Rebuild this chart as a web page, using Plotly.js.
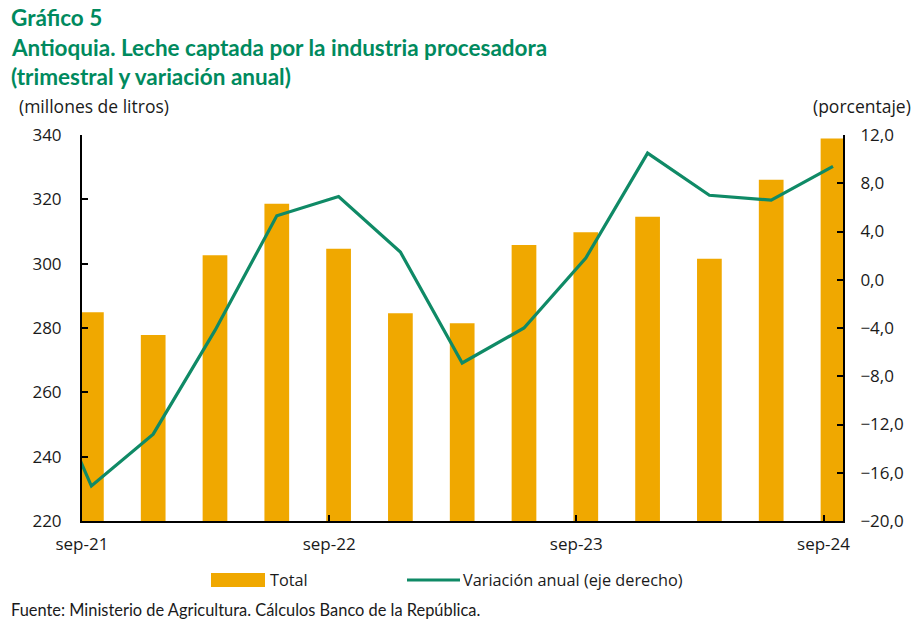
<!DOCTYPE html>
<html>
<head>
<meta charset="utf-8">
<script src="https://cdn.plot.ly/plotly-3.0.1.min.js"></script>
<style>
  html, body { margin: 0; padding: 0; background: #ffffff; }
  #chart { width: 916px; height: 621px; }
</style>
</head>
<body>
<div id="chart"></div>
<script>
// ---- Data ----
const quarters = ['sep-21','dic-21','mar-22','jun-22','sep-22','dic-22','mar-23','jun-23','sep-23','dic-23','mar-24','jun-24','sep-24'];
const totalMillonesLitros = [284.9, 277.8, 302.6, 318.6, 304.6, 284.6, 281.5, 305.8, 309.8, 314.6, 301.5, 326.1, 338.9];
// annual variation (%), preceded by jun-21 (only partly visible at the left edge)
const varQuarters = ['jun-21','sep-21','dic-21','mar-22','jun-22','sep-22','dic-22','mar-23','jun-23','sep-23','dic-23','mar-24','jun-24','sep-24'];
const variacionAnual = [-5.3, -17.1, -12.8, -4.2, 5.3, 6.9, 2.3, -6.9, -4.0, 1.8, 10.5, 7.0, 6.6, 9.4];
const xTickLabels = ['sep-21','sep-22','sep-23','sep-24'];

// ---- Styles ----
const TITLE_FONT = 'Lato, "Noto Sans", sans-serif';
const FONT = '"Open Sans", "Noto Sans", sans-serif';
const FOOT_FONT = 'Lato, "Noto Sans", sans-serif';
const BAR_COLOR = '#F0A800';
const LINE_COLOR = '#0F8A66';
const TITLE_COLOR = '#008A5E';
const TEXT_COLOR = '#1a1a1a';

const W = 916, H = 621;
const M = {l: 82, r: 73, t: 135, b: 100};
const px = x => (x - M.l) / (W - M.l - M.r);
const py = y => (H - M.b - y) / (H - M.t - M.b);

const xBar = quarters.map((q, i) => i);
const xVar = varQuarters.map(q => quarters.indexOf(q) >= 0 ? quarters.indexOf(q) : -1);
const tickPositions = xTickLabels.map(l => quarters.indexOf(l) - 0.153);

const traces = [
  {
    type: 'bar', name: 'Total', x: xBar, y: totalMillonesLitros,
    customdata: quarters, width: 0.4,
    marker: {color: BAR_COLOR, line: {width: 0}},
    yaxis: 'y', hovertemplate: '%{customdata}: %{y}<extra></extra>'
  },
  {
    type: 'scatter', mode: 'lines', name: 'Variación anual (eje derecho)',
    x: xVar, y: variacionAnual, customdata: varQuarters,
    line: {color: LINE_COLOR, width: 3.2},
    yaxis: 'y2', hovertemplate: '%{customdata}: %{y}<extra></extra>'
  }
];

const annotations = [
  {text: 'Gráfico 5', x: px(9), y: py(17)},
  {text: 'Antioquia. Leche captada por la industria procesadora', x: px(9), y: py(47)},
  {text: '(trimestral y variación anual)', x: px(9), y: py(77)}
].map(a => Object.assign(a, {xref: 'paper', yref: 'paper', xanchor: 'left', yanchor: 'middle',
  showarrow: false, font: {family: TITLE_FONT, size: 22.5, color: TITLE_COLOR, weight: 'bold'}}));

const small = (text, x, y, anchor, size, family) => ({text, x: px(x), y: py(y), xref: 'paper', yref: 'paper',
  xanchor: anchor, yanchor: 'middle', showarrow: false, font: {family: family || FONT, size: size, color: TEXT_COLOR}});

annotations.push(small('(millones de litros)', 17, 106, 'left', 17.5));
annotations.push(small('(porcentaje)', 913, 106, 'right', 17.5));
annotations.push(small('Total', 268, 580, 'left', 16.3));
annotations.push(small('Variación anual (eje derecho)', 461, 580, 'left', 16.3));
annotations.push(small('Fuente: Ministerio de Agricultura. Cálculos Banco de la República.', 9, 609, 'left', 16.4, FOOT_FONT));

const shapes = [
  {type: 'rect', xref: 'paper', yref: 'paper', x0: px(211), x1: px(265), y0: py(573), y1: py(587),
   fillcolor: BAR_COLOR, line: {width: 0}},
  {type: 'line', xref: 'paper', yref: 'paper', x0: px(407), x1: px(460), y0: py(580), y1: py(580),
   line: {color: LINE_COLOR, width: 3.2}}
];

const layout = {
  width: W, height: H,
  margin: M,
  paper_bgcolor: '#ffffff', plot_bgcolor: '#ffffff',
  separators: ',.',
  showlegend: false,
  font: {family: FONT, color: TEXT_COLOR},
  xaxis: {
    range: [-0.152, 12.162], showgrid: false, zeroline: false,
    showline: true, linecolor: '#000', linewidth: 2,
    tickmode: 'array', tickvals: tickPositions, ticktext: xTickLabels,
    ticks: 'inside', ticklen: 6, tickwidth: 2, tickcolor: '#000',
    ticklabelshift: 9.5, ticklabelstandoff: 7,
    tickfont: {family: FONT, size: 17, color: TEXT_COLOR}, fixedrange: true
  },
  yaxis: {
    range: [220, 340], dtick: 20, tick0: 220, showgrid: false, zeroline: false,
    showline: true, linecolor: '#000', linewidth: 2,
    ticks: 'inside', ticklen: 6, tickwidth: 2, tickcolor: '#000',
    ticklabelstandoff: 15,
    tickfont: {family: FONT, size: 17, color: TEXT_COLOR}, fixedrange: true
  },
  yaxis2: {
    range: [-20, 12], dtick: 4, tick0: -20, tickformat: '.1f',
    overlaying: 'y', side: 'right', showgrid: false, zeroline: false,
    showline: true, linecolor: '#000', linewidth: 2,
    ticks: 'inside', ticklen: 6, tickwidth: 2, tickcolor: '#000',
    ticklabelstandoff: 12,
    tickfont: {family: FONT, size: 17, color: TEXT_COLOR}, fixedrange: true
  },
  annotations: annotations,
  shapes: shapes
};

Plotly.newPlot('chart', traces, layout, {displayModeBar: false, staticPlot: true});
</script>
</body>
</html>
